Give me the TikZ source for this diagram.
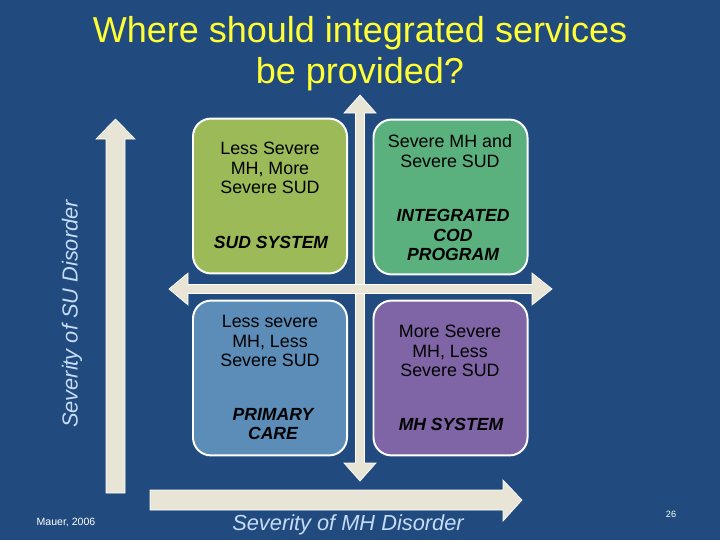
\documentclass[tikz,border=0pt]{standalone}
\usepackage{fontspec}
\setmainfont{Liberation Sans}
\usepackage{tikz}
\usetikzlibrary{positioning}
\definecolor{slidebg}{RGB}{33, 74, 126}
\definecolor{titleyellow}{RGB}{255, 255, 51}
\definecolor{axisblue}{RGB}{198, 220, 245}
\definecolor{arrowbeige}{RGB}{232, 228, 214}
\definecolor{sudgreen}{RGB}{156, 187, 88}
\definecolor{codgreen}{RGB}{90, 177, 126}
\definecolor{pcblue}{RGB}{91, 141, 184}
\definecolor{mhpurple}{RGB}{127, 100, 166}

\tikzset{
  quad/.style={draw=white, line width=1.4pt, rounded corners=0.45cm,
    minimum width=3.85cm, minimum height=3.87cm, inner sep=0pt},
  desc/.style={align=center, text=black, font=\fontsize{12.7}{14}\selectfont},
  system/.style={align=center, text=black,
    font=\fontsize{12.5}{14}\selectfont\bfseries\itshape},
  blockarrow/.style={fill=arrowbeige, draw=white, line width=0.5pt},
  axislabel/.style={text=axisblue, font=\fontsize{15.5}{18}\selectfont\itshape}
}

\begin{document}
\begin{tikzpicture}[x=0.025cm, y=-0.025cm]
    \fill [slidebg] (0, 0) rectangle (720, 540);
    \useasboundingbox (0, 0) rectangle (720, 540);

    % title
    \node (title) at (360, 53.5) [align=center, text=titleyellow,
      font=\fontsize{25.6}{29.2}\selectfont] {Where should integrated services\\be provided?};

    % axes
    \draw [blockarrow] (106, 493) -- (106, 139) -- (96, 139) -- (115.5, 119)
      -- (135, 139) -- (125, 139) -- (125, 493) -- cycle;
    \draw [blockarrow] (150, 490) -- (503, 490) -- (503, 480) -- (522, 500)
      -- (503, 521) -- (503, 510) -- (150, 510) -- cycle;

    % quadrant arrows
    \draw [blockarrow] (355.5, 113) -- (344, 113) -- (360, 95) -- (376, 113) -- (364.5, 113)
      -- (364.5, 463) -- (376, 463) -- (360, 481) -- (344, 463) -- (355.5, 463) -- cycle;
    \draw [blockarrow] (188, 284.5) -- (188, 273) -- (169, 289) -- (188, 305) -- (188, 293.5)
      -- (532, 293.5) -- (532, 305) -- (552, 289) -- (532, 273) -- (532, 284.5) -- cycle;

    % quadrants
    \node (sud) at (270, 196) [quad, fill=sudgreen] {};
    \node (cod) at (450.5, 197) [quad, fill=codgreen] {};
    \node (pc) at (270, 378) [quad, fill=pcblue] {};
    \node (mh) at (450.5, 378) [quad, fill=mhpurple] {};

    \node (sudtext) at (270, 168) [desc] {Less Severe\\MH, More\\Severe SUD};
    \node (sudsys) at (271, 242) [system] {SUD SYSTEM};
    \node (codtext) at (450, 151) [desc] {Severe MH and\\Severe SUD};
    \node (codsys) at (453, 235) [system] {INTEGRATED\\COD\\PROGRAM};
    \node (pctext) at (270, 341) [desc] {Less severe\\MH, Less\\Severe SUD};
    \node (pcsys) at (273, 424) [system] {PRIMARY\\CARE};
    \node (mhtext) at (450, 351) [desc] {More Severe\\MH, Less\\Severe SUD};
    \node (mhsys) at (451, 424) [system] {MH SYSTEM};

    % axis labels
    \node (sulabel) at (72, 314) [axislabel, rotate=90] {Severity of SU Disorder};
    \node (mhlabel) at (348, 530) [axislabel, anchor=base] {Severity of MH Disorder};

    \node (source) at (66, 522) [text=white, font=\fontsize{7.5}{9}\selectfont] {Mauer, 2006};
    \node (page) at (671, 514) [text=white, font=\fontsize{6.5}{8}\selectfont] {26};
\end{tikzpicture}
\end{document}
